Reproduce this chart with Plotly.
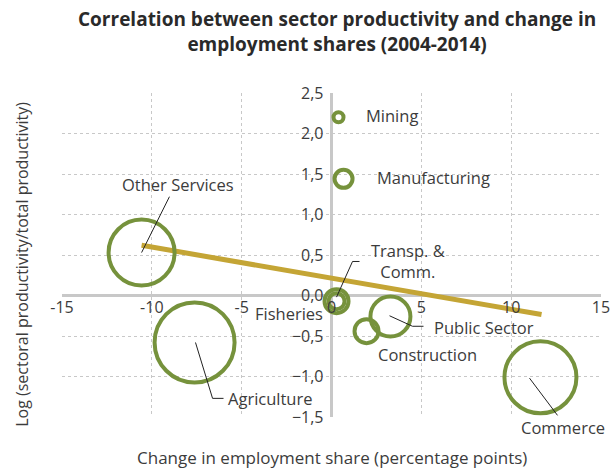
import plotly.graph_objects as go

# bubble data: sector, change in employment share (pp), log relative productivity, bubble weight
sectors = ["Mining", "Manufacturing", "Other Services", "Transp. &<br>Comm.", "Fisheries",
           "Public Sector", "Construction", "Agriculture", "Commerce"]
change_pp = [0.39, 0.67, -10.57, 0.28, 0.28, 3.28, 1.95, -7.62, 11.63]
log_prod = [2.2, 1.44, 0.53, -0.07, -0.07, -0.26, -0.44, -0.58, -1.01]
bubble_weight = [2.0, 3.6, 13.2, 4.8, 3.2, 8.0, 4.8, 16.0, 14.4]

# fitted trend line end points
trend_x = [-10.57, 11.69]
trend_y = [0.62, -0.235]

x_ticks = [-15, -10, -5, 0, 5, 10, 15]
y_ticks = [-1.5, -1.0, -0.5, 0.0, 0.5, 1.0, 1.5, 2.0, 2.5]

GREEN = "#76923c"
MUSTARD = "#c4a535"
TEXT = "#3c3c3c"
GRID = "#c8c8c8"
FONT = "Open Sans"

# label placement (data coords, optional pixel shift) and leader lines (label side -> bubble)
label_pos = {
    "Mining": (3.34, 2.22, 0),
    "Manufacturing": (5.68, 1.46, 0),
    "Other Services": (-8.57, 1.37, 0),
    "Transp. &<br>Comm.": (4.23, 0.42, 0),
    "Fisheries": (-2.34, -0.22, 0),
    "Public Sector": (8.46, -0.40, 0),
    "Construction": (5.34, -0.73, 0),
    "Agriculture": (-3.39, -1.27, 0),
    "Commerce": (12.91, -1.5, -10.5),
}
leaders = {
    "Other Services": [(-9.02, 1.22), (-10.57, 0.53)],
    "Transp. &<br>Comm.": [(1.56, 0.42), (1.17, 0.42), (0.28, -0.02)],
    "Public Sector": [(5.12, -0.38), (4.51, -0.38), (3.23, -0.25)],
    "Agriculture": [(-6.01, -1.27), (-6.62, -1.27), (-7.57, -0.58)],
    "Commerce": [(12.58, -1.48), (11.02, -1.02)],
}

fig = go.Figure()

fig.add_trace(go.Scatter(
    x=trend_x, y=trend_y, mode="lines",
    line=dict(color=MUSTARD, width=5), hoverinfo="skip", showlegend=False,
))

fig.add_trace(go.Scatter(
    x=change_pp, y=log_prod, mode="markers", text=sectors,
    marker=dict(size=bubble_weight, sizemode="diameter", sizeref=0.2, opacity=1,
                color="rgba(0,0,0,0)", line=dict(color=GREEN, width=4)),
    showlegend=False,
))

for name, pts in leaders.items():
    fig.add_trace(go.Scatter(
        x=[p[0] for p in pts], y=[p[1] for p in pts], mode="lines",
        line=dict(color="#222222", width=1), hoverinfo="skip", showlegend=False,
    ))

for name in sectors:
    lx, ly, shift = label_pos[name]
    fig.add_annotation(x=lx, y=ly, yshift=shift, text=name, showarrow=False,
                       font=dict(family=FONT, size=16.5, color=TEXT))

fig.add_annotation(xref="paper", yref="paper", x=0.51, y=1.19, yanchor="middle",
                   text="<b>Correlation between sector productivity and change in<br>employment shares (2004-2014)</b>",
                   showarrow=False, font=dict(family=FONT, size=19, color="#2a2a2a"))
fig.add_annotation(xref="paper", yref="paper", x=0.5, y=-0.125, yanchor="middle",
                   text="Change in employment share (percentage points)", showarrow=False,
                   font=dict(family=FONT, size=17, color=TEXT))
fig.add_annotation(xref="paper", yref="paper", x=-0.074, xanchor="center", y=0.47, yanchor="middle",
                   textangle=-90,
                   text="Log (sectoral productivity/total productivity)", showarrow=False,
                   font=dict(family=FONT, size=16, color=TEXT))

fig.update_layout(
    width=612, height=469,
    margin=dict(l=62, r=11, t=93, b=52),
    plot_bgcolor="white", paper_bgcolor="white",
    separators=",.",
    xaxis=dict(range=[-15, 15], tickvals=x_ticks, ticktext=[str(v) for v in x_ticks],
               anchor="free", position=0.375, automargin=False,
               showgrid=True, gridcolor=GRID, griddash="dot",
               zeroline=True, zerolinecolor=GRID, zerolinewidth=3, showline=False,
               tickfont=dict(family=FONT, size=16, color=TEXT), ticks=""),
    yaxis=dict(range=[-1.5, 2.5], tickvals=y_ticks, tickformat=".1f",
               anchor="free", position=0.5, automargin=False,
               showgrid=True, gridcolor=GRID, griddash="dot",
               zeroline=True, zerolinecolor=GRID, zerolinewidth=3, showline=False,
               tickfont=dict(family=FONT, size=16, color=TEXT), ticks="", ticklabelstandoff=8),
)

fig.write_html("out.html", config={"displayModeBar": False},
               post_script="document.body.style.margin='0';")
